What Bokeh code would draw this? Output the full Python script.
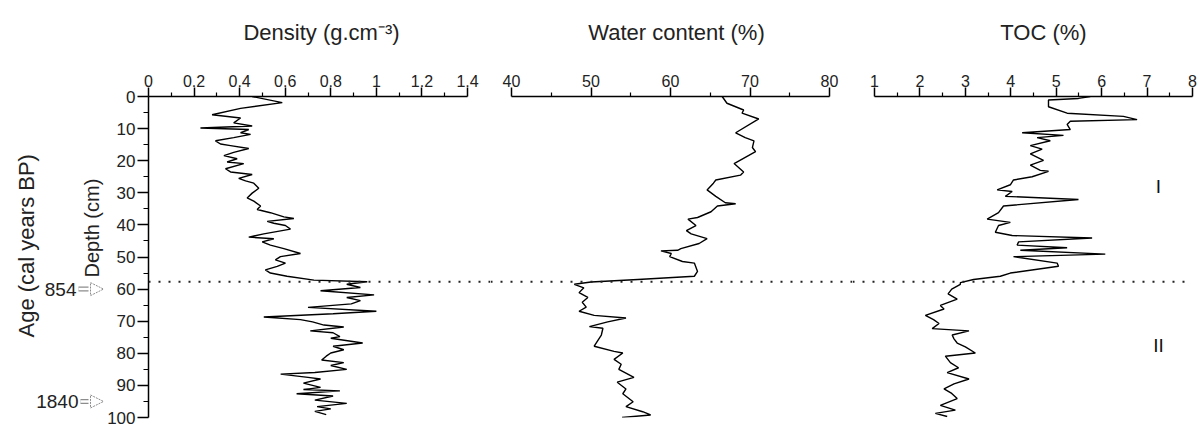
from bokeh.plotting import figure
from bokeh.models import Range1d, LinearAxis, FixedTicker, Span, Label, Arrow, NormalHead
from bokeh.layouts import row, column
from bokeh.embed import file_html
from bokeh.resources import INLINE

# ---------------- data ----------------
dens_depth = [0.0, 1.9, 3.7, 5.7, 6.7, 8.2, 9.2, 9.8, 10.3, 11.3, 11.8, 12.8, 13.8, 14.8, 15.3,
              16.2, 17.4, 18.4, 19.4, 20.4, 20.9, 22.5, 23.5, 24.3, 25.5, 26.3, 27.0, 28.6, 30.1,
              31.6, 32.6, 34.1, 35.2, 36.2, 37.5, 38.0, 38.9, 39.5, 40.2, 41.3, 42.8, 43.8, 44.3,
              45.3, 46.3, 47.4, 48.9, 49.9, 50.9, 51.9, 52.9, 54.0, 55.0, 56.0, 57.2, 57.7, 58.5,
              59.5, 60.5, 61.8, 62.6, 63.6, 64.6, 65.7, 66.9, 67.7, 68.7, 69.5, 70.2, 71.2, 71.8,
              73.0, 73.6, 74.8, 75.3, 76.8, 77.8, 78.9, 79.9, 80.9, 82.1, 82.9, 83.8, 85.0, 86.0,
              86.5, 87.5, 88.0, 89.3, 90.6, 91.3, 91.7, 92.6, 93.3, 94.6, 95.6, 96.6, 97.3, 98.1,
              99.1]
dens_value = [0.455, 0.587, 0.404, 0.279, 0.404, 0.374, 0.455, 0.228, 0.440, 0.404, 0.448, 0.374,
              0.294, 0.316, 0.360, 0.440, 0.374, 0.331, 0.389, 0.345, 0.418, 0.338, 0.360, 0.455,
              0.396, 0.426, 0.462, 0.484, 0.455, 0.433, 0.462, 0.492, 0.477, 0.535, 0.594, 0.638,
              0.521, 0.550, 0.601, 0.623, 0.506, 0.440, 0.550, 0.499, 0.535, 0.594, 0.667, 0.579,
              0.557, 0.601, 0.565, 0.513, 0.535, 0.608, 0.726, 0.960, 0.870, 0.930, 0.755, 0.990,
              0.870, 0.930, 0.890, 0.700, 1.000, 0.810, 0.506, 0.667, 0.720, 0.770, 0.857, 0.710,
              0.810, 0.840, 0.800, 0.940, 0.810, 0.857, 0.800, 0.780, 0.760, 0.857, 0.800, 0.870,
              0.730, 0.580, 0.700, 0.755, 0.680, 0.755, 0.680, 0.840, 0.650, 0.810, 0.730, 0.870,
              0.740, 0.800, 0.730, 0.780]

wc_depth = [0.0, 2.1, 4.2, 5.2, 7.0, 11.3, 12.8, 13.8, 15.9, 17.2, 20.9, 23.5, 24.5, 26.0, 27.0,
            29.1, 31.1, 33.1, 33.4, 34.1, 35.9, 37.7, 38.2, 40.2, 41.8, 42.8, 44.3, 45.8, 47.4,
            47.9, 48.1, 48.9, 49.9, 51.4, 51.9, 54.5, 56.0, 57.0, 57.8, 58.5, 59.6, 61.1, 62.6,
            64.1, 65.6, 66.9, 68.2, 69.0, 70.2, 71.7, 72.2, 74.3, 77.8, 79.4, 79.9, 81.9, 83.4,
            85.0, 87.5, 89.0, 91.1, 92.6, 95.1, 96.6, 98.2, 99.2, 100.0]
wc_value = [66.5, 67.1, 69.2, 69.0, 71.1, 68.2, 69.4, 70.5, 70.3, 70.7, 68.0, 69.2, 68.8, 65.7,
            65.4, 64.6, 65.7, 66.9, 68.2, 65.9, 65.1, 63.4, 62.2, 63.2, 62.0, 62.6, 64.6, 63.6,
            61.3, 60.9, 58.8, 60.1, 59.9, 61.5, 63.0, 63.4, 63.0, 55.9, 50.0, 47.9, 49.1, 48.5,
            49.6, 48.9, 49.4, 48.5, 50.4, 54.4, 52.1, 49.8, 51.5, 51.3, 50.4, 52.9, 54.0, 52.9,
            53.8, 53.5, 55.4, 53.3, 54.4, 54.0, 55.3, 54.4, 56.5, 57.5, 53.9]

toc_depth = [0.0, 0.6, 1.1, 3.2, 5.2, 6.2, 7.2, 7.7, 8.7, 10.3, 11.3, 12.1, 12.8, 13.8, 15.3, 16.4,
             17.9, 19.9, 21.4, 23.0, 23.3, 25.0, 26.0, 27.5, 29.1, 29.6, 31.1, 32.1, 34.1, 36.2,
             38.2, 39.2, 40.2, 42.3, 43.3, 44.1, 45.3, 46.3, 47.1, 47.9, 49.1, 49.9, 51.9, 52.9,
             55.0, 56.0, 57.0, 58.0, 58.5, 60.0, 61.5, 63.1, 65.1, 66.2, 68.2, 69.5, 70.7, 72.3,
             73.0, 74.3, 75.5, 76.8, 78.0, 79.9, 80.9, 82.9, 84.5, 86.0, 88.0, 89.5, 91.1, 92.5,
             94.1, 96.2, 97.7, 98.7, 99.7]
toc_value = [5.75, 5.49, 4.83, 4.83, 5.24, 6.48, 6.78, 5.31, 5.24, 5.31, 4.25, 5.16, 4.58, 4.87,
             4.43, 4.69, 4.43, 4.72, 4.43, 4.65, 4.83, 4.47, 4.06, 3.99, 3.70, 4.03, 3.88, 5.49,
             3.84, 3.73, 3.48, 3.99, 3.73, 3.66, 4.03, 5.79, 4.17, 4.14, 5.24, 4.21, 6.08, 4.06,
             5.02, 5.05, 3.99, 3.77, 3.18, 2.89, 2.89, 2.70, 2.62, 2.82, 2.45, 2.53, 2.12, 2.30,
             2.42, 2.27, 3.08, 2.71, 2.75, 2.82, 3.00, 3.22, 2.56, 2.67, 2.85, 2.60, 3.08, 2.75,
             2.53, 2.70, 2.82, 2.45, 2.78, 2.34, 2.60]

boundary_depth = 57.7
age_depths = [60, 95]
age_labels = ["854", "1840"]
zone_depths = [28, 77.5]
zone_labels = ["I", "II"]

depth_ticks = [0, 10, 20, 30, 40, 50, 60, 70, 80, 90, 100]
dens_ticks = [0, 0.2, 0.4, 0.6, 0.8, 1.0, 1.2, 1.4]
dens_tick_labels = ["0", "0.2", "0.4", "0.6", "0.8", "1", "1.2", "1.4"]
wc_ticks = [40, 50, 60, 70, 80]
wc_tick_labels = ["40", "50", "60", "70", "80"]
toc_ticks = [1, 2, 3, 4, 5, 6, 7, 8]
toc_tick_labels = ["1", "2", "3", "4", "5", "6", "7", "8"]

titles = ["Density (g.cm\u207b\u00b3)", "Water content (%)", "TOC (%)"]
y_title = "Age (cal years BP)"
depth_title = "Depth (cm)"

# ---------------- layout / style ----------------
FONT = "Liberation Sans"
TEXT = "#222222"
TOP_H = 56          # height of the title strip
FRAME_TOP = 96      # page y of depth 0
FRAME_H = 321       # depth 0..100
BOTTOM = 428 - FRAME_TOP - FRAME_H


def mids(t):
    return [(a + b) / 2 for a, b in zip(t[:-1], t[1:])]


def make_fig(xr, frame_w, left, right):
    p = figure(x_range=xr, y_range=Range1d(100, 0), frame_width=frame_w, frame_height=FRAME_H,
               min_border_left=left, min_border_right=right, min_border_top=FRAME_TOP - TOP_H,
               min_border_bottom=BOTTOM, output_backend="svg", toolbar_location=None,
               x_axis_location=None, y_axis_location=None)
    p.grid.visible = False
    p.outline_line_color = None
    p.background_fill_color = "white"
    p.border_fill_color = "white"
    return p


def style_axis(ax):
    ax.axis_line_width = 1.5
    ax.axis_line_color = "black"
    ax.major_tick_line_width = 1.5
    ax.minor_tick_line_width = 1.2
    ax.major_tick_line_color = "black"
    ax.minor_tick_line_color = "black"
    ax.major_tick_in = 0
    ax.minor_tick_in = 0
    ax.major_label_text_font = FONT
    ax.major_label_text_color = TEXT


def top_axis(p, ticks, labels):
    ax = LinearAxis(bounds=(ticks[0], ticks[-1]),
                    ticker=FixedTicker(ticks=ticks, minor_ticks=mids(ticks)),
                    major_label_overrides={t: l for t, l in zip(ticks, labels)})
    style_axis(ax)
    ax.major_tick_out = 9
    ax.minor_tick_out = 4
    ax.major_label_text_font_size = "16px"
    ax.major_label_standoff = 1
    p.add_layout(ax, "above")
    return ax


# title strip across the top
pt = figure(x_range=Range1d(0, 1198), y_range=Range1d(0, TOP_H), frame_width=1198,
            frame_height=TOP_H, min_border=0, output_backend="svg", toolbar_location=None,
            x_axis_location=None, y_axis_location=None)
pt.grid.visible = False
pt.outline_line_color = None
title_x = [321, 676, 1043]
for t, tx in zip(titles, title_x):
    pt.add_layout(Label(x=tx, y=TOP_H - 32, text=t, text_align="center", text_baseline="middle",
                        text_font=FONT, text_font_size="22px", text_color=TEXT))

# left strip (age labels, arrows, axis titles)
LEFT_W = 104
p0 = make_fig(Range1d(0, LEFT_W), LEFT_W, 0, 0)
p0.add_layout(Label(x=26, y=46.5, text=y_title, angle=90, angle_units="deg",
                    text_align="center", text_baseline="middle", text_font=FONT,
                    text_font_size="22px", text_color=TEXT))
p0.add_layout(Label(x=91, y=41, text=depth_title, angle=90, angle_units="deg",
                    text_align="center", text_baseline="middle", text_font=FONT,
                    text_font_size="20px", text_color=TEXT))
label_right = [76, 78]
for ad, al, lx in zip(age_depths, age_labels, label_right):
    p0.add_layout(Label(x=lx, y=ad, text=al, text_align="right", text_baseline="middle",
                        text_font=FONT, text_font_size="19px", text_color=TEXT))
    xs, xm, xe = lx + 2, 88, LEFT_W - 1
    p0.add_layout(Arrow(end=None, x_start=xs, y_start=ad, x_end=xm, y_end=ad,
                        line_color="#8c8c8c", line_width=5))
    p0.add_layout(Arrow(end=None, x_start=xs, y_start=ad, x_end=xm + 1, y_end=ad,
                        line_color="white", line_width=2.5))
    p0.add_layout(Arrow(end=NormalHead(size=13, fill_color="white", line_color="#8c8c8c",
                                       line_width=1, line_dash="2 1"),
                        x_start=xm, y_start=ad, x_end=xe, y_end=ad, line_alpha=0))

# Density panel (frame page x 148..490)
D_W = 342
d_px = 319.0 / 1.4
p1 = make_fig(Range1d(0, D_W / d_px), D_W, 148 - LEFT_W, 0)
top_axis(p1, dens_ticks, dens_tick_labels)
yax = LinearAxis(ticker=FixedTicker(ticks=depth_ticks, minor_ticks=mids(depth_ticks)))
style_axis(yax)
yax.major_tick_out = 11
yax.minor_tick_out = 5
yax.major_label_text_font_size = "17px"
yax.major_label_standoff = 2
p1.add_layout(yax, "left")
p1.line(dens_value, dens_depth, line_color="black", line_width=1.4)

# Water content panel (frame page x 490..852)
W_W = 362
w_px = 318.0 / 40.0
p2 = make_fig(Range1d(40 - 21 / w_px, 40 + (W_W - 21) / w_px), W_W, 0, 0)
top_axis(p2, wc_ticks, wc_tick_labels)
p2.line(wc_value, wc_depth, line_color="black", line_width=1.4)

# TOC panel (frame page x 852..1192)
T_W = 340
t_px = 318.0 / 7.0
p3 = make_fig(Range1d(1 - 22 / t_px, 1 + (T_W - 22) / t_px), T_W, 0, 6)
top_axis(p3, toc_ticks, toc_tick_labels)
p3.line(toc_value, toc_depth, line_color="black", line_width=1.4)

# zone boundary (dotted) across the panels
for p in (p1, p2, p3):
    p.add_layout(Span(location=boundary_depth, dimension="width", line_color="#222222",
                      line_width=2, line_dash="2 8"))

# zone labels
for zl, zd in zip(zone_labels, zone_depths):
    p3.add_layout(Label(x=306, y=zd, x_units="screen", y_units="data", text=zl,
                        text_align="center", text_baseline="middle", text_font=FONT,
                        text_font_size="19px", text_color="#111111"))

layout = column(pt, row(p0, p1, p2, p3))
open("out.html", "w").write(file_html(layout, INLINE))
